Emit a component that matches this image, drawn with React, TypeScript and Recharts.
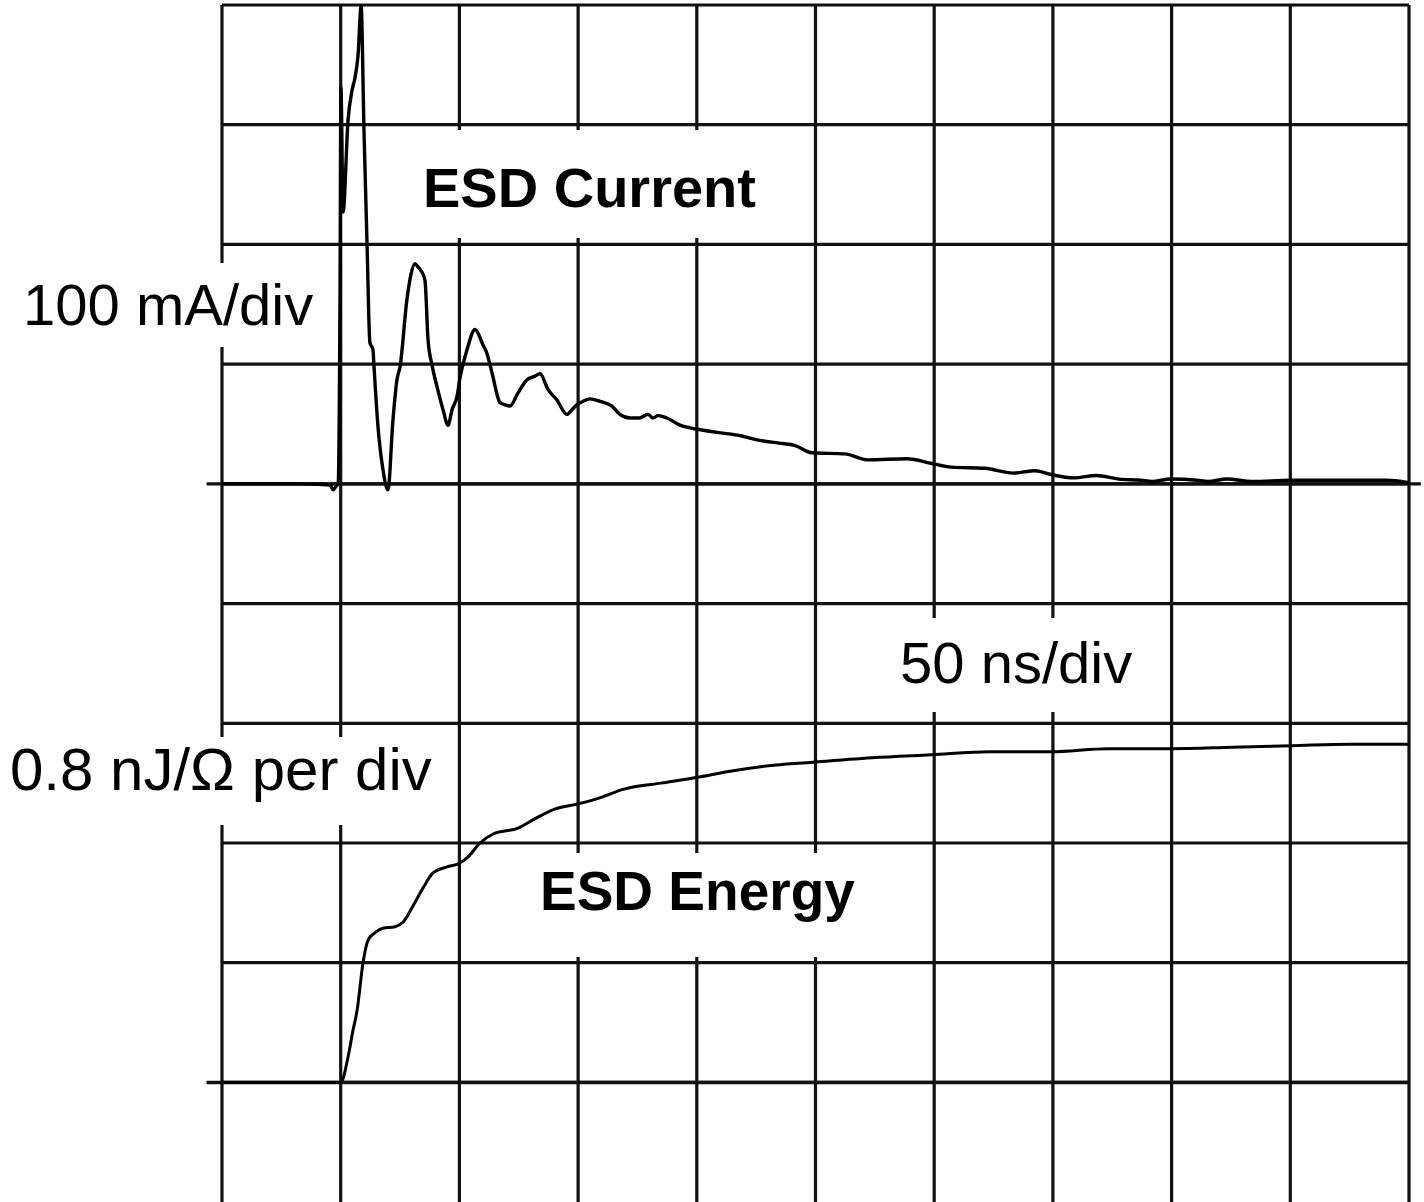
import React from 'react';
import { LineChart, Line, XAxis, YAxis, CartesianGrid, ReferenceLine } from 'recharts';

// time base: 50 ns/div, 10 divisions
const timeTicks = [0, 50, 100, 150, 200, 250, 300, 350, 400, 450, 500];
// current channel: 100 mA/div, zero 4 divs below top
const currentTicks = [-500, -400, -300, -200, -100, 0, 100, 200, 300, 400];

// ESD current trace (ns, mA)
const currentTime = [
  0, 33, 45.5, 46.8, 48, 48.9, 49.7, 50.1, 51, 53.1, 54.8, 56, 57.3, 58.6, 59.8, 61.1, 62.3, 63.6, 64,
  65.7, 67.8, 69.9, 72, 73.7, 75, 77.9, 79.6, 81.3, 82.6, 84.2, 85.5, 86.8, 88.5, 90.6, 93.1, 95.2,
  96.9, 99, 100.3, 103.2, 106.6, 108.3, 109.5, 111.6, 113.7, 117.1, 119.2, 121.3, 124.7, 128.5, 131.8,
  134, 137.3, 141.1, 145.3, 147.4, 149.5, 152.1, 155, 159.2, 164.3, 167.6, 171.9, 175.7, 179.4, 181.5,
  183.7, 187.4, 192.9, 199.2, 208.5, 219, 224.9, 234.6, 241.4, 248.5, 262.4, 272.1, 288.5, 299.1,
  307.1, 321.4, 333.2, 342.5, 348.8, 358.9, 368.2, 377.8, 387.1, 391.7, 399.7, 410.7, 415.3, 423.3,
  433.9, 450.3, 466.7, 490.3, 500,
];
const currentMilliAmps = [
  0, 0, -1, -5, -2, 0, 154, 331, 227, 304, 329, 339, 358, 399, 296, 200, 118, 112, 99,
  48, 12, -5, 53, 87, 98, 154, 175, 184, 181, 177, 170, 120, 99, 81, 62, 49,
  62, 73, 89, 112, 129, 124, 118, 109, 93, 68, 66, 65, 76, 87, 90,
  92, 79, 70, 58, 62, 66, 69, 71, 69, 65, 58, 55, 55, 58, 55,
  57, 55, 49, 46, 43, 40, 37, 34, 32, 26, 25, 20, 21, 17,
  14, 13, 9, 11, 8, 5, 7, 4, 3, 2, 4, 3, 2, 4,
  2, 3, 3, 3, 1,
];

// ESD energy trace (ns, nJ/Ohm), 0.8 nJ/Ohm per div
const energyTime = [
  0, 50, 53.1, 55.2, 56.9, 59.4, 61.5, 64.4, 67.8, 72.9, 76.2, 80.5, 84.7, 88.9, 94.8, 99.4, 103.2,
  108.7, 114.2, 124.7, 132.7, 140.7, 149.5, 158.8, 169.3, 184.9, 200.5, 214, 227, 248.9, 273.8,
  298.6, 323.5, 349.2, 373.2, 399.3, 425.9, 450.7, 475.6, 500,
];
const energyNJ = [
  0, 0, 0.17, 0.35, 0.48, 0.8, 0.95, 1.0, 1.03, 1.04, 1.07, 1.18, 1.3, 1.4, 1.44, 1.46, 1.5,
  1.6, 1.66, 1.7, 1.77, 1.83, 1.86, 1.9, 1.96, 2.0, 2.04, 2.08, 2.11, 2.14, 2.17,
  2.19, 2.21, 2.21, 2.23, 2.23, 2.24, 2.25, 2.26, 2.26,
];

const currentData = currentTime.map((t, i) => ({ t, mA: currentMilliAmps[i] }));
const energyData = energyTime.map((t, i) => ({ t, nJ: energyNJ[i] }));

const FONT = '"Liberation Sans", Arial, Helvetica, sans-serif';

const labels = [
  { text: '100 mA/div', box: [8, 263, 310, 84], x: 23, y: 325, size: 58, bold: false },
  { text: '0.8 nJ/\u03A9 per div', box: [0, 737, 447, 88], x: 10, y: 790, size: 60, bold: false },
  { text: 'ESD Current', box: [405, 130, 385, 108], x: 423, y: 207, size: 56, bold: true },
  { text: '50 ns/div', box: [885, 618, 265, 94], x: 900, y: 683, size: 58, bold: false },
  { text: 'ESD Energy', box: [522, 853, 348, 104], x: 540, y: 910, size: 55, bold: true },
];

// the scope photo is cut half a division below the last graticule line
const App: React.FC = () => {
  return (
    <div style={{ position: 'absolute', left: 0, top: 0, width: 1424, height: 1202, background: '#fff', overflow: 'hidden' }}>
      <LineChart width={1424} height={1262} margin={{ top: 5, right: 15, left: 222, bottom: 0 }}>
        <CartesianGrid yAxisId="i" stroke="#111" strokeWidth={3.2} strokeOpacity={1} />
        <XAxis type="number" dataKey="t" domain={[0, 500]} ticks={timeTicks} allowDataOverflow hide />
        <YAxis yAxisId="i" type="number" domain={[-650, 400]} ticks={currentTicks} allowDataOverflow hide />
        <YAxis yAxisId="e" type="number" domain={[-1.2, 7.2]} allowDataOverflow hide />
        <ReferenceLine yAxisId="i" segment={[{ x: -6.5, y: 0 }, { x: 505, y: 0 }]} stroke="#111" strokeWidth={3.4} ifOverflow="visible" />
        <ReferenceLine yAxisId="i" segment={[{ x: -6.5, y: -500 }, { x: 500, y: -500 }]} stroke="#111" strokeWidth={3.4} ifOverflow="visible" />
        <Line yAxisId="i" data={currentData} dataKey="mA" type="monotone" stroke="#000" strokeWidth={3.4} dot={false} isAnimationActive={false} />
        <Line yAxisId="e" data={energyData} dataKey="nJ" type="monotone" stroke="#000" strokeWidth={3} dot={false} isAnimationActive={false} />
      </LineChart>
      <svg width={1424} height={1202} style={{ position: 'absolute', left: 0, top: 0, pointerEvents: 'none' }}>
        {labels.map((l) => (
          <g key={l.text}>
            <rect x={l.box[0]} y={l.box[1]} width={l.box[2]} height={l.box[3]} fill="#fff" />
            <text x={l.x} y={l.y} fontFamily={FONT} fontSize={l.size} fontWeight={l.bold ? 700 : 400} fill="#000">
              {l.text}
            </text>
          </g>
        ))}
      </svg>
    </div>
  );
};

export default App;
